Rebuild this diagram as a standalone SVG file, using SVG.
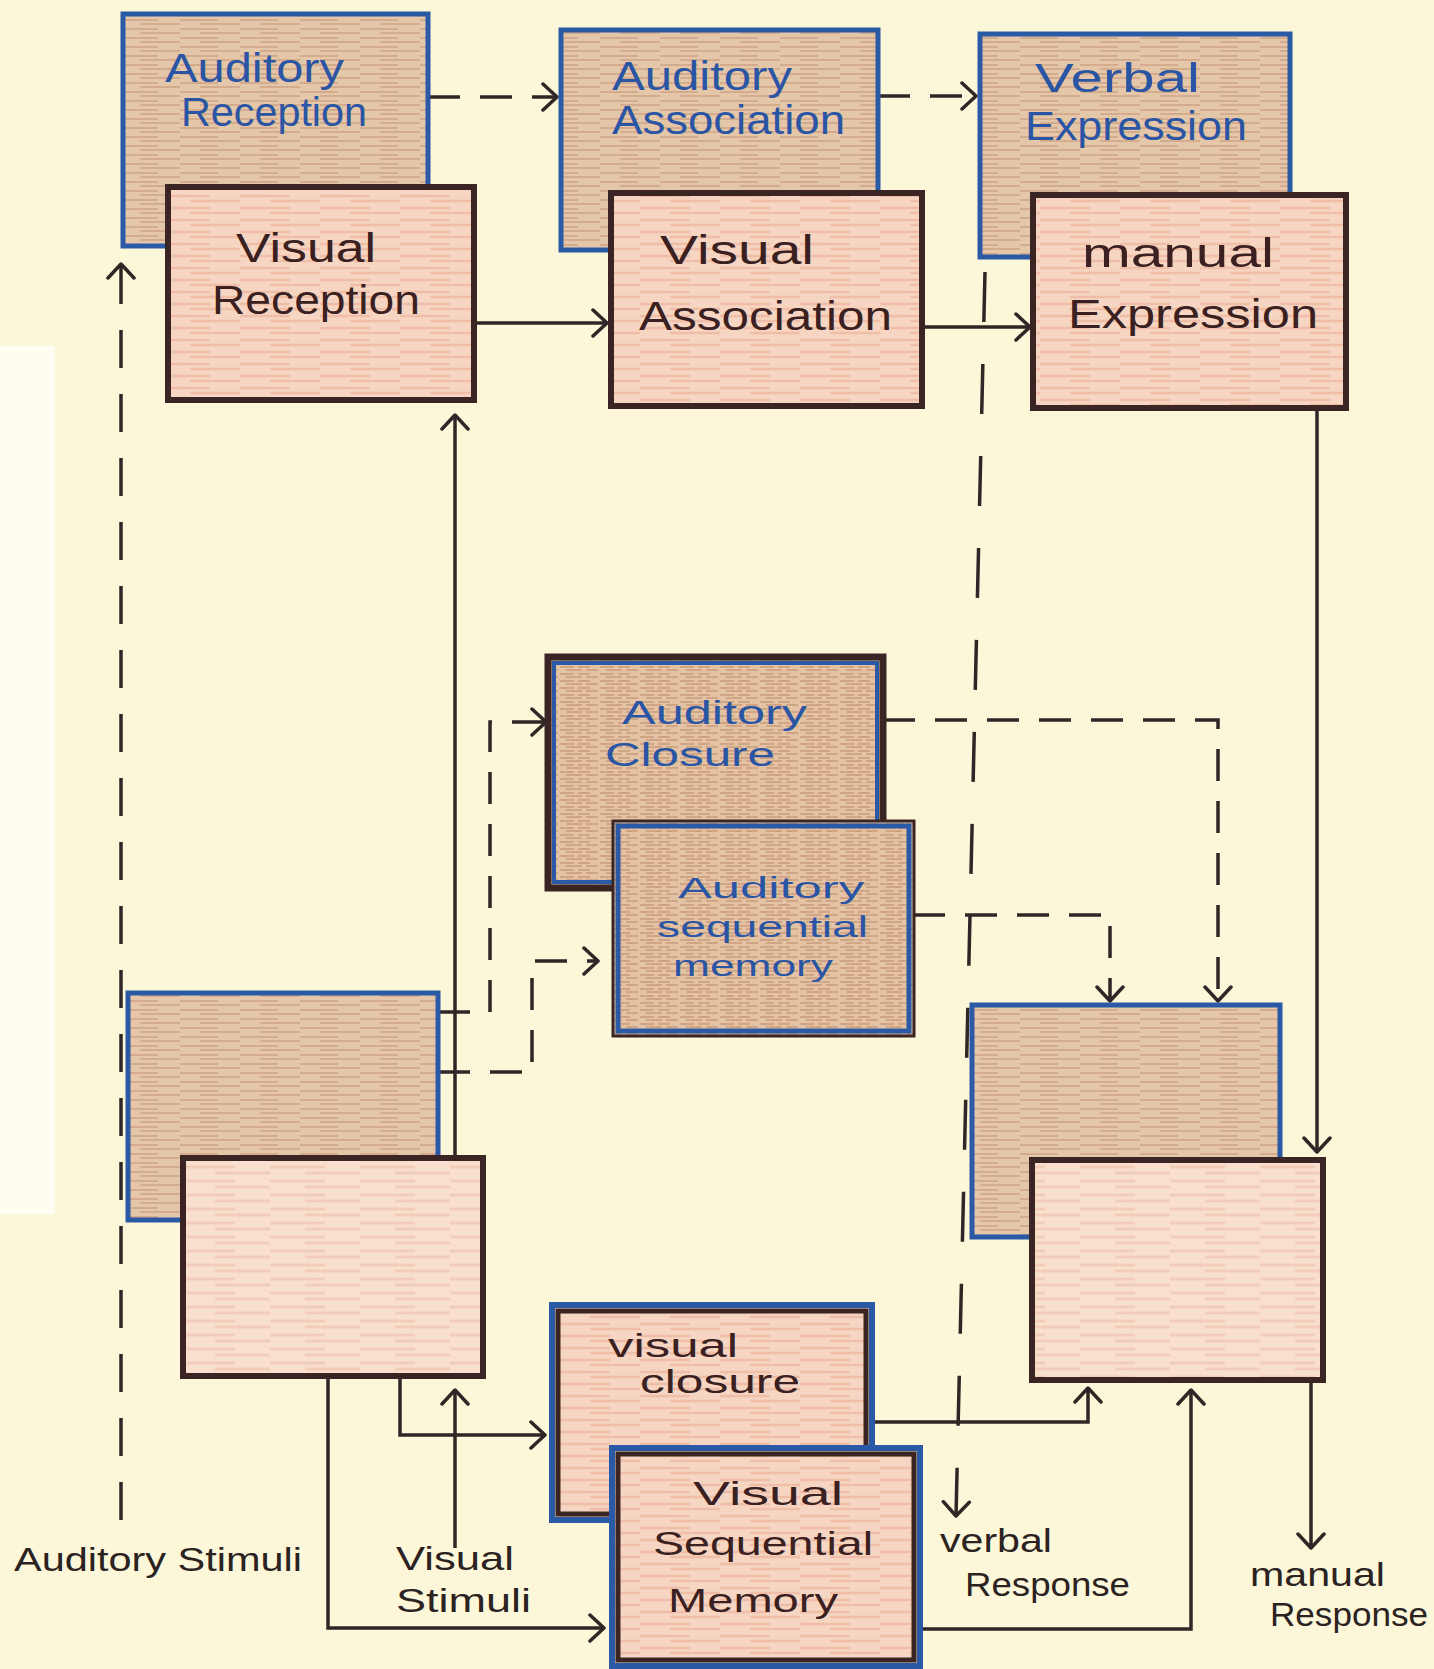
<svg xmlns="http://www.w3.org/2000/svg" width="1434" height="1669" viewBox="0 0 1434 1669">
<style>
.bg{fill:#FCF7D9}
.brownbox{fill:url(#brownTex);stroke:#2A5AA6;stroke-width:5}
.pinkbox{fill:url(#pinkTex);stroke:#3A2424;stroke-width:6}
.blankpink{fill:url(#paleTex);stroke:#3A2424;stroke-width:6}
.darkout{fill:url(#brownTex2);stroke:#3A2424;stroke-width:7}
.bluein{fill:none;stroke:#2A5AA6;stroke-width:4}
.blueout{fill:url(#pinkTex);stroke:#2A5AA6;stroke-width:6}
.darkin{fill:none;stroke:#3A2424;stroke-width:5}
.thindark{fill:url(#brownTex2);stroke:#3A2424;stroke-width:3}
.conn{fill:none;stroke:#2F2626;stroke-width:3.5;marker-end:url(#ah)}
.dash{stroke-dasharray:32 20}
.dashv{stroke-dasharray:38 26}
.dashl{stroke-dasharray:50 42}
.tb{font-family:"Liberation Sans",Arial,sans-serif;fill:#2A55A4;font-size:40px}
.td{font-family:"Liberation Sans",Arial,sans-serif;fill:#3A2020;font-size:40px}
.tm{font-family:"Liberation Sans",Arial,sans-serif;fill:#2B2222;font-size:34px}
.ts{font-size:34px}
.tx{font-size:30px}
</style>
<defs>
<pattern id="brownTex" width="60" height="9" patternUnits="userSpaceOnUse">
<rect width="60" height="9" fill="#E4C6A8"/>
<path d="M0,2 H38 M20,6 H60" stroke="#CFA484" stroke-width="1.6"/>
</pattern>
<pattern id="brownTex2" width="40" height="7" patternUnits="userSpaceOnUse">
<rect width="40" height="7" fill="#E3C3A4"/>
<path d="M0,2 H14 M18,2 H30 M6,5 H22 M26,5 H38" stroke="#C99C7C" stroke-width="1.5"/>
</pattern>
<pattern id="pinkTex" width="80" height="12" patternUnits="userSpaceOnUse">
<rect width="80" height="12" fill="#F6D6C2"/>
<path d="M0,4 H50 M30,9 H80" stroke="#F0BEA8" stroke-width="2.5"/>
</pattern>
<pattern id="paleTex" width="90" height="14" patternUnits="userSpaceOnUse">
<rect width="90" height="14" fill="#F8DFCE"/>
<path d="M0,5 H55 M35,11 H90" stroke="#F3CDB9" stroke-width="3"/>
</pattern>
<marker id="ah" viewBox="-16 -16 20 32" markerWidth="20" markerHeight="32" refX="0" refY="0" orient="auto" markerUnits="userSpaceOnUse">
<path d="M-14,-13 L0,0 L-14,13" fill="none" stroke="#2F2626" stroke-width="3.5" stroke-dasharray="none" stroke-linecap="round" stroke-linejoin="round"/>
</marker>
</defs>

<rect class="bg" x="0" y="0" width="1434" height="1669"/>
<rect x="0" y="346" width="55" height="868" fill="#FFFDF2"/>

<g id="connectors">
<path id="c1" class="conn dash" d="M428,97 H557"/>
<path id="c2" class="conn dash" d="M878,96 H976"/>
<path id="c3" class="conn" d="M474,323 H607"/>
<path id="c4" class="conn" d="M922,327 H1030"/>
<path id="c5" class="conn dashv" d="M121,1520 V264"/>
<path id="c6" class="conn" d="M455,1158 V415"/>
<path id="c7" class="conn dash" d="M438,1012 H490 V722 H546"/>
<path id="c8" class="conn dash" d="M438,1072 H532 V961 H598"/>
<path id="c9" class="conn dash" d="M883,720 H1218 V1001"/>
<path id="c10" class="conn dash" d="M913,915 H1110 V1001"/>
<path id="c11" class="conn dashl" d="M985,272 L956,1516"/>
<path id="c12" class="conn" d="M1317,408 V1152"/>
<path id="c13" class="conn" d="M1311,1380 V1548"/>
<path id="c14" class="conn" d="M872,1422 H1088 V1388"/>
<path id="c15" class="conn" d="M920,1629 H1191 V1390"/>
<path id="c16" class="conn" d="M400,1376 V1435 H545"/>
<path id="c17" class="conn" d="M328,1376 V1628 H604"/>
<path id="c18" class="conn" d="M455,1548 V1390"/>
</g>

<g id="auditory-reception">
<rect class="brownbox" x="123" y="14" width="305" height="232"/>
<text class="tb" x="165" y="82" textLength="179" lengthAdjust="spacingAndGlyphs">Auditory</text>
<text class="tb" x="181" y="126" textLength="186" lengthAdjust="spacingAndGlyphs">Reception</text>
</g>
<g id="visual-reception">
<rect class="pinkbox" x="168" y="187" width="306" height="213"/>
<text class="td" x="236" y="262" textLength="140" lengthAdjust="spacingAndGlyphs">Visual</text>
<text class="td" x="212" y="314" textLength="208" lengthAdjust="spacingAndGlyphs">Reception</text>
</g>
<g id="auditory-association">
<rect class="brownbox" x="561" y="30" width="317" height="220"/>
<text class="tb" x="612" y="90" textLength="180" lengthAdjust="spacingAndGlyphs">Auditory</text>
<text class="tb" x="612" y="134" textLength="233" lengthAdjust="spacingAndGlyphs">Association</text>
</g>
<g id="visual-association">
<rect class="pinkbox" x="611" y="193" width="311" height="213"/>
<text class="td" x="660" y="264" textLength="154" lengthAdjust="spacingAndGlyphs">Visual</text>
<text class="td" x="639" y="330" textLength="253" lengthAdjust="spacingAndGlyphs">Association</text>
</g>
<g id="verbal-expression">
<rect class="brownbox" x="980" y="34" width="310" height="223"/>
<text class="tb" x="1035" y="92" textLength="165" lengthAdjust="spacingAndGlyphs">Verbal</text>
<text class="tb" x="1025" y="140" textLength="222" lengthAdjust="spacingAndGlyphs">Expression</text>
</g>
<g id="manual-expression">
<rect class="pinkbox" x="1033" y="195" width="313" height="213"/>
<text class="td" x="1082" y="267" textLength="192" lengthAdjust="spacingAndGlyphs">manual</text>
<text class="td" x="1068" y="328" textLength="250" lengthAdjust="spacingAndGlyphs">Expression</text>
</g>

<g id="auditory-closure">
<rect class="darkout" x="548" y="657" width="335" height="231"/>
<rect class="bluein" x="554" y="663" width="323" height="219"/>
<text class="tb ts" x="622" y="724" textLength="185" lengthAdjust="spacingAndGlyphs">Auditory</text>
<text class="tb ts" x="605" y="766" textLength="170" lengthAdjust="spacingAndGlyphs">Closure</text>
</g>
<g id="auditory-sequential-memory">
<rect class="thindark" x="613" y="821" width="301" height="215"/>
<rect class="bluein" x="618" y="826" width="291" height="205" style="stroke-width:5"/>
<text class="tb tx" x="678" y="898" textLength="186" lengthAdjust="spacingAndGlyphs">Auditory</text>
<text class="tb tx" x="657" y="937" textLength="211" lengthAdjust="spacingAndGlyphs">sequential</text>
<text class="tb tx" x="673" y="976" textLength="160" lengthAdjust="spacingAndGlyphs">memory</text>
</g>

<g id="blank-auditory-left">
<rect class="brownbox" x="128" y="993" width="310" height="227"/>
</g>
<g id="blank-visual-left">
<rect class="blankpink" x="183" y="1158" width="300" height="218"/>
</g>
<g id="blank-auditory-right">
<rect class="brownbox" x="972" y="1005" width="308" height="232"/>
</g>
<g id="blank-visual-right">
<rect class="blankpink" x="1032" y="1160" width="291" height="220"/>
</g>

<g id="visual-closure">
<rect class="blueout" x="552" y="1305" width="320" height="215"/>
<rect class="darkin" x="558" y="1311" width="308" height="203"/>
<text class="td ts" x="608" y="1357" textLength="130" lengthAdjust="spacingAndGlyphs">visual</text>
<text class="td ts" x="640" y="1393" textLength="160" lengthAdjust="spacingAndGlyphs">closure</text>
</g>
<g id="visual-sequential-memory">
<rect class="blueout" x="612" y="1448" width="308" height="218"/>
<rect class="darkin" x="618" y="1454" width="296" height="206"/>
<text class="td ts" x="693" y="1505" textLength="150" lengthAdjust="spacingAndGlyphs">Visual</text>
<text class="td ts" x="653" y="1555" textLength="220" lengthAdjust="spacingAndGlyphs">Sequential</text>
<text class="td ts" x="668" y="1612" textLength="170" lengthAdjust="spacingAndGlyphs">Memory</text>
</g>

<g id="labels">
<text class="tm" x="14" y="1571" textLength="288" lengthAdjust="spacingAndGlyphs">Auditory Stimuli</text>
<text class="tm" x="396" y="1570" textLength="118" lengthAdjust="spacingAndGlyphs">Visual</text>
<text class="tm" x="396" y="1612" textLength="135" lengthAdjust="spacingAndGlyphs">Stimuli</text>
<text class="tm" x="940" y="1552" textLength="112" lengthAdjust="spacingAndGlyphs">verbal</text>
<text class="tm" x="965" y="1596" textLength="165" lengthAdjust="spacingAndGlyphs">Response</text>
<text class="tm" x="1250" y="1586" textLength="135" lengthAdjust="spacingAndGlyphs">manual</text>
<text class="tm" x="1270" y="1626" textLength="158" lengthAdjust="spacingAndGlyphs">Response</text>
</g>
</svg>
